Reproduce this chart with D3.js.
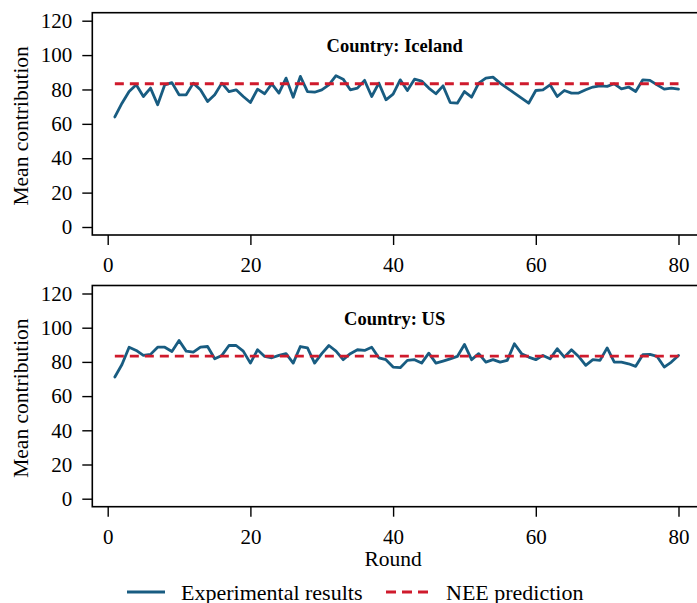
<!DOCTYPE html>
<html>
<head>
<meta charset="utf-8">
<script src="https://cdn.jsdelivr.net/npm/d3@7"></script>
<style>
  html, body { margin: 0; padding: 0; background: #fff; }
  svg { display: block; }
  text { font-family: "Liberation Serif", "Times New Roman", serif; fill: #000; }
</style>
</head>
<body>
<svg id="chart" width="697" height="603"></svg>
<script>
// ---- Data ----
const rounds = d3.range(1, 81);
const xTicks = [0, 20, 40, 60, 80];
const yTicks = [0, 20, 40, 60, 80, 100, 120];
const countries = ["Country: Iceland", "Country: US"];
const neePrediction = 83.33;

const icelandValues = [
  64, 72, 78.8, 82.7, 75.9, 80.8, 71.1, 82.7, 84, 76.9,
  76.9, 83.7, 79.8, 73, 76.9, 83.7, 78.8, 79.8, 75.9, 72.4,
  80.2, 77.5, 83.3, 77.9, 86.6, 75.5, 87.6, 78.8, 78.4, 79.8,
  82.7, 88, 86, 79.8, 80.8, 85.3, 75.9, 83.7, 74, 77.3,
  85.6, 79.4, 86, 84.9, 80.8, 77.5, 82.1, 72.4, 72, 78.8,
  75.5, 83.7, 86.6, 87.2, 83.7, 80.8, 77.9, 75, 72, 79.4,
  79.8, 82.7, 75.9, 79.4, 77.9, 77.9, 79.8, 81.4, 82.1, 81.8,
  83.3, 80.4, 81.4, 78.8, 85.6, 85.3, 82.7, 80.2, 80.8, 80.2
];

const usValues = [
  71.2, 78.5, 88.6, 86.7, 83.8, 84.4, 88.6, 88.6, 86.1, 92.5,
  86.3, 85.7, 88.6, 89, 81.8, 83.8, 89.6, 89.6, 86.3, 79.3,
  87.1, 83.2, 82.4, 83.8, 84.8, 79.3, 89, 88.2, 79.3, 84.8,
  89.6, 86.3, 81.3, 84.8, 87.1, 86.7, 88.6, 82.4, 81.3, 77,
  76.6, 80.9, 81.3, 79.3, 85.1, 79.3, 80.5, 81.8, 83.2, 90.2,
  81.3, 84.8, 79.9, 81.3, 79.9, 80.9, 90.6, 84.8, 82.8, 81.3,
  83.8, 81.8, 87.7, 82.8, 87.1, 83.2, 78, 81.3, 80.9, 88.2,
  79.9, 79.9, 78.9, 77.4, 84.2, 84.4, 83.2, 77, 79.9, 83.8
];

const seriesNames = ["Experimental results", "NEE prediction"];

// ---- Styles / layout ----
const blue = "#185c81";
const red = "#cf1a2c";
const frameLeft = 92.3, frameRight = 699;
const panels = [
  { title: countries[0], values: icelandValues, top: 12.7, bottom: 235 },
  { title: countries[1], values: usValues, top: 285.5, bottom: 506.7 }
];

const svg = d3.select("#chart");
const x = d3.scaleLinear().domain([0, 80]).range([107.7, 678.5]);

panels.forEach(p => {
  const y = d3.scaleLinear().domain([0, 120]).range([p.bottom - 8, p.top + 8]);
  const g = svg.append("g");

  // frame
  g.append("rect")
    .attr("x", frameLeft).attr("y", p.top)
    .attr("width", frameRight - frameLeft).attr("height", p.bottom - p.top)
    .attr("fill", "none").attr("stroke", "#000").attr("stroke-width", 1.6);

  // y axis
  const ya = g.append("g").attr("transform", `translate(${frameLeft},0)`)
    .call(d3.axisLeft(y).tickValues(yTicks).tickSize(10).tickPadding(10).tickFormat(d3.format("d")));
  ya.select(".domain").remove();
  ya.selectAll(".tick line").attr("stroke", "#000").attr("stroke-width", 1.4);
  ya.selectAll(".tick text").attr("font-size", 21).attr("font-family", "Liberation Serif").attr("fill", "#000");

  // x axis
  const xa = g.append("g").attr("transform", `translate(0,${p.bottom})`)
    .call(d3.axisBottom(x).tickValues(xTicks).tickSize(10).tickPadding(12).tickFormat(d3.format("d")));
  xa.select(".domain").remove();
  xa.selectAll(".tick line").attr("stroke", "#000").attr("stroke-width", 1.4);
  xa.selectAll(".tick text").attr("font-size", 21).attr("font-family", "Liberation Serif").attr("fill", "#000");

  // y title
  g.append("text")
    .attr("transform", `translate(28,${(p.top + p.bottom) / 2 + 2}) rotate(-90)`)
    .attr("text-anchor", "middle")
    .attr("font-size", 21.5)
    .text("Mean contribution");

  // panel title
  g.append("text")
    .attr("x", (frameLeft + 697) / 2).attr("y", p.top + 39)
    .attr("text-anchor", "middle")
    .attr("font-size", 18.5).attr("font-weight", "bold")
    .text(p.title);

  // experimental line
  const line = d3.line().x((d, i) => x(rounds[i])).y(d => y(d));
  g.append("path")
    .datum(p.values)
    .attr("d", line)
    .attr("fill", "none").attr("stroke", blue).attr("stroke-width", 2.8)
    .attr("stroke-linejoin", "round").attr("stroke-linecap", "round");

  // NEE prediction
  g.append("line")
    .attr("x1", x(rounds[0])).attr("x2", x(rounds[rounds.length - 1]))
    .attr("y1", y(neePrediction)).attr("y2", y(neePrediction))
    .attr("stroke", red).attr("stroke-width", 2.8).attr("stroke-dasharray", "9,6");
});

// x title
svg.append("text")
  .attr("x", x(40)).attr("y", 566)
  .attr("text-anchor", "middle").attr("font-size", 21.5)
  .text("Round");

// legend
const ly = 592;
svg.append("line").attr("x1", 127).attr("x2", 165).attr("y1", ly).attr("y2", ly)
  .attr("stroke", blue).attr("stroke-width", 2.8);
svg.append("text").attr("x", 181).attr("y", ly + 7.5).attr("font-size", 22).text(seriesNames[0]);
svg.append("line").attr("x1", 386).attr("x2", 428).attr("y1", ly).attr("y2", ly)
  .attr("stroke", red).attr("stroke-width", 2.8).attr("stroke-dasharray", "10,6");
svg.append("text").attr("x", 446).attr("y", ly + 7.5).attr("font-size", 22).text(seriesNames[1]);
</script>
</body>
</html>
